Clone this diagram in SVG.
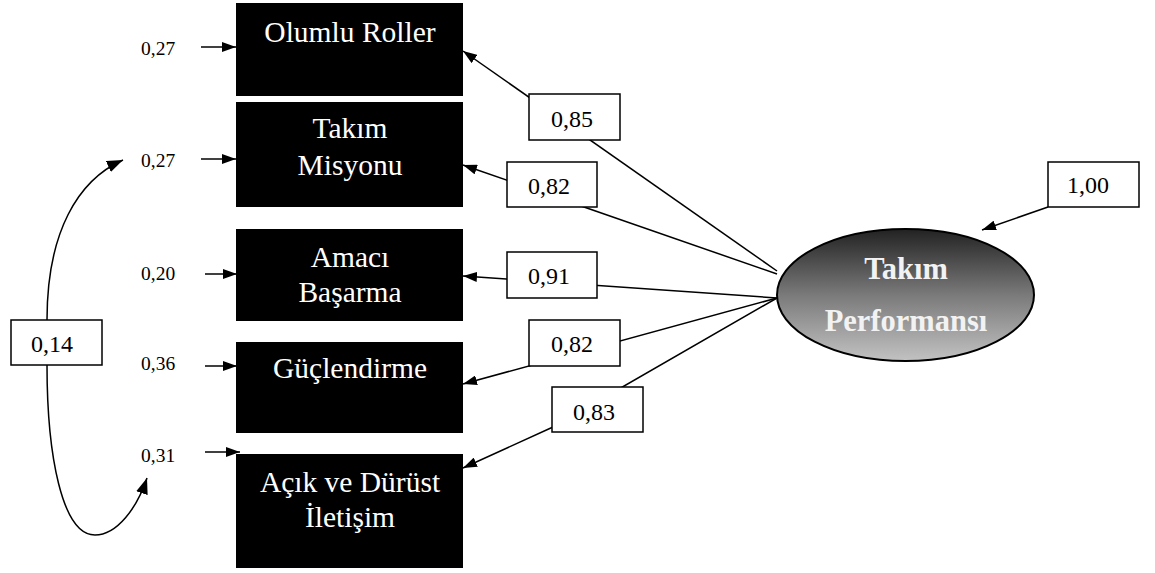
<svg xmlns="http://www.w3.org/2000/svg" width="1155" height="573" viewBox="0 0 1155 573">
  <style>
    .box rect { fill: #000; }
    .box text { fill: #fff; font-family: "Liberation Serif", "Times New Roman", serif; font-size: 29.5px; text-anchor: middle; }
    .err { fill: #000; font-family: "Liberation Serif", "Times New Roman", serif; font-size: 19.5px; }
    .lbl rect { fill: #fff; stroke: #000; stroke-width: 1.5; }
    .lbl text { fill: #000; font-family: "Liberation Serif", "Times New Roman", serif; font-size: 24px; text-anchor: middle; }
    .conn path, .conn line { fill: none; stroke: #000; stroke-width: 1.5; }
    .latent text { fill: #f2f2f2; font-family: "Liberation Serif", "Times New Roman", serif; font-weight: bold; font-size: 30.5px; text-anchor: middle; }
  </style>
  <defs>
    <marker id="ah" viewBox="0 0 14 10" refX="14" refY="5" markerWidth="14" markerHeight="10" markerUnits="userSpaceOnUse" orient="auto">
      <polygon points="0,0 14,5 0,10" fill="#000"/>
    </marker>
    <marker id="ahBig" viewBox="0 0 16 12" refX="16" refY="6" markerWidth="16" markerHeight="12" markerUnits="userSpaceOnUse" orient="auto">
      <polygon points="0,0 16,6 0,12" fill="#000"/>
    </marker>
    <linearGradient id="latentFill" x1="0" y1="0" x2="0" y2="1">
      <stop offset="0" stop-color="#222"/>
      <stop offset="0.5" stop-color="#7a7a7a"/>
      <stop offset="1" stop-color="#c2c2c2"/>
    </linearGradient>
  </defs>

  <!-- connectors: loadings, error terms, covariance -->
  <g id="connectors" class="conn">
    <line x1="777" y1="271" x2="463" y2="51" marker-end="url(#ah)"/>
    <line x1="777" y1="274" x2="463" y2="165" marker-end="url(#ah)"/>
    <line x1="777" y1="298" x2="463" y2="276" marker-end="url(#ah)"/>
    <line x1="777" y1="298" x2="463" y2="384" marker-end="url(#ah)"/>
    <path d="M777,298 L553,427 L463,468" marker-end="url(#ah)"/>
    <line x1="1048" y1="207" x2="982" y2="230" marker-end="url(#ah)"/>

    <line x1="201" y1="47" x2="236" y2="47" marker-end="url(#ah)"/>
    <line x1="201" y1="159" x2="236" y2="159" marker-end="url(#ah)"/>
    <line x1="205" y1="274" x2="237" y2="274" marker-end="url(#ah)"/>
    <line x1="205" y1="366" x2="237" y2="366" marker-end="url(#ah)"/>
    <line x1="205" y1="452" x2="240" y2="452" marker-end="url(#ah)"/>

    <path d="M47,320 C47,232 78,180 123,160" marker-end="url(#ahBig)"/>
    <path d="M47,365 C47,455 62,535 95,535 C117,535 137,508 147,478" marker-end="url(#ahBig)"/>
  </g>

  <!-- observed variables -->
  <g id="olumlu-roller" class="box">
    <rect x="236" y="3" width="227" height="93"/>
    <text x="350" y="42">Olumlu Roller</text>
  </g>
  <g id="takim-misyonu" class="box">
    <rect x="236" y="102" width="227" height="105"/>
    <text x="350" y="138">Takım</text>
    <text x="350" y="175">Misyonu</text>
  </g>
  <g id="amaci-basarma" class="box">
    <rect x="236" y="229" width="227" height="92"/>
    <text x="350" y="267">Amacı</text>
    <text x="350" y="302">Başarma</text>
  </g>
  <g id="guclendirme" class="box">
    <rect x="236" y="342" width="227" height="91"/>
    <text x="350" y="378">Güçlendirme</text>
  </g>
  <g id="acik-durust-iletisim" class="box">
    <rect x="236" y="454" width="227" height="114"/>
    <text x="350" y="492">Açık ve Dürüst</text>
    <text x="350" y="527">İletişim</text>
  </g>

  <!-- error variances -->
  <g id="error-terms">
    <text class="err" x="141" y="55">0,27</text>
    <text class="err" x="141" y="167">0,27</text>
    <text class="err" x="141" y="280">0,20</text>
    <text class="err" x="141" y="370">0,36</text>
    <text class="err" x="141" y="462">0,31</text>
  </g>

  <!-- latent variable -->
  <g id="takim-performansi" class="latent">
    <ellipse cx="905.5" cy="295" rx="128.5" ry="66" fill="url(#latentFill)" stroke="#000" stroke-width="2"/>
    <text x="906" y="279">Takım</text>
    <text x="906" y="331">Performansı</text>
  </g>

  <!-- coefficient labels -->
  <g id="lbl-085" class="lbl"><rect x="529" y="94" width="91" height="46"/><text x="572" y="127">0,85</text></g>
  <g id="lbl-082a" class="lbl"><rect x="507" y="162" width="90" height="45"/><text x="549" y="194">0,82</text></g>
  <g id="lbl-091" class="lbl"><rect x="507" y="252" width="90" height="46"/><text x="549" y="284">0,91</text></g>
  <g id="lbl-082b" class="lbl"><rect x="529" y="320" width="91" height="46"/><text x="572" y="352">0,82</text></g>
  <g id="lbl-083" class="lbl"><rect x="552" y="387" width="91" height="45"/><text x="594" y="420">0,83</text></g>
  <g id="lbl-100" class="lbl"><rect x="1048" y="162" width="91" height="45"/><text x="1088" y="193">1,00</text></g>
  <g id="lbl-014" class="lbl"><rect x="11" y="320" width="91" height="45"/><text x="52" y="352">0,14</text></g>
</svg>
